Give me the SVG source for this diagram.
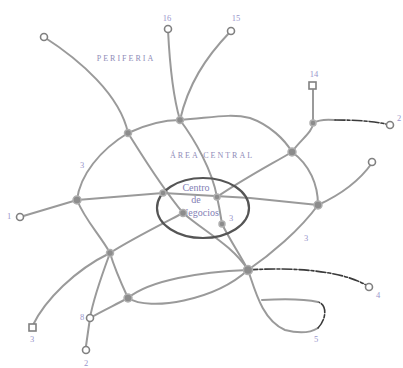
<svg xmlns="http://www.w3.org/2000/svg" width="403" height="368" viewBox="0 0 403 368">
<style>
.c{fill:none;stroke:#9a9a9a;stroke-width:2;stroke-linecap:round}
.d{fill:none;stroke:#3a3a3a;stroke-width:1.6;stroke-dasharray:10 2 3 2;stroke-linecap:round}
.j{fill:#8c8c8c;stroke:#b0b0b0;stroke-width:1.5}
.e{fill:#fff;stroke:#808080;stroke-width:1.6}
.l{font-family:"Liberation Serif",serif;font-size:8.5px;fill:#9a96cc;text-anchor:middle}
.a{font-family:"Liberation Serif",serif;font-size:8px;fill:#8f8cb8;text-anchor:middle;letter-spacing:2px}
.t{font-family:"Liberation Serif",serif;font-size:10px;fill:#8380b4;text-anchor:middle}
</style>
<rect width="403" height="368" fill="#fff"/>
<g id="connectors">
<path class="c" d="M44,37 C80,60 120,95 128,133"/>
<path class="c" d="M168,30 C170,70 174,100 180,120"/>
<path class="c" d="M230,32 C205,58 188,85 180,120"/>
<path class="c" d="M128,133 C145,125 165,120 180,120 C210,118 230,113 250,118 C270,125 285,140 292,152"/>
<path class="c" d="M128,133 C100,150 80,175 77,200"/>
<path class="c" d="M77,200 L20,217"/>
<path class="c" d="M77,200 L163,193 L250,198 L318,205"/>
<path class="c" d="M77,200 C85,220 100,235 110,253"/>
<path class="c" d="M128,133 C145,160 160,185 183,213 C205,232 232,245 248,270"/>
<path class="c" d="M180,120 C195,140 212,170 217,197 C220,210 221,218 222,224 C230,240 240,255 248,270"/>
<path class="c" d="M292,152 C270,165 245,178 217,197"/>
<path class="c" d="M292,152 C310,165 318,185 318,205"/>
<path class="c" d="M318,205 C340,195 360,180 372,163"/>
<path class="c" d="M318,205 C300,230 270,255 248,270"/>
<path class="c" d="M292,152 C300,140 313,132 313,123 L313,90"/>
<path class="c" d="M313,123 C318,120 325,119 335,120"/>
<path class="d" d="M335,120 C355,120 372,121 386,124"/>
<path class="c" d="M183,213 C160,225 130,240 110,253"/>
<path class="c" d="M110,253 C115,270 122,285 128,298"/>
<path class="c" d="M128,298 C150,280 200,272 248,270"/>
<path class="c" d="M128,298 C150,312 215,300 248,270"/>
<path class="c" d="M110,253 C100,280 93,300 90,318 L86,346"/>
<path class="c" d="M128,298 C115,305 100,312 90,318"/>
<path class="c" d="M110,253 C75,270 45,300 33,325"/>
<path class="d" d="M248,270 C290,267 340,270 366,285"/>
<path class="c" d="M248,270 C255,290 262,320 285,330 C300,334 310,333 318,328"/>
<path class="d" d="M318,328 C326,320 328,305 318,302"/>
<path class="c" d="M318,302 C300,298 280,299 262,300"/>
</g>
<g id="center">
<ellipse cx="203" cy="208" rx="46" ry="30" fill="none" stroke="#555" stroke-width="2.2"/>
<text class="t" x="196" y="191">Centro</text>
<text class="t" x="196" y="203">de</text>
<text class="t" x="200" y="216">Negocios</text>
</g>
<g id="junctions">
<circle class="j" cx="128" cy="133" r="3.5"/>
<circle class="j" cx="180" cy="120" r="3.5"/>
<circle class="j" cx="292" cy="152" r="4"/>
<circle class="j" cx="318" cy="205" r="4"/>
<circle class="j" cx="248" cy="270" r="4.5"/>
<circle class="j" cx="128" cy="298" r="4"/>
<circle class="j" cx="110" cy="253" r="3.5"/>
<circle class="j" cx="77" cy="200" r="4"/>
<circle class="j" cx="163" cy="193" r="3"/>
<circle class="j" cx="183" cy="213" r="3.5"/>
<circle class="j" cx="217" cy="197" r="3"/>
<circle class="j" cx="222" cy="224" r="3"/>
<circle class="j" cx="313" cy="123" r="3"/>
</g>
<g id="endpoints">
<circle class="e" cx="44" cy="37" r="3.5"/>
<circle class="e" cx="168" cy="29" r="3.5"/>
<circle class="e" cx="231" cy="31" r="3.5"/>
<rect class="e" x="309" y="82" width="7" height="7"/>
<circle class="e" cx="390" cy="125" r="3.5"/>
<circle class="e" cx="372" cy="162" r="3.5"/>
<circle class="e" cx="369" cy="287" r="3.5"/>
<circle class="e" cx="20" cy="217" r="3.5"/>
<rect class="e" x="29" y="324" width="7" height="7"/>
<circle class="e" cx="86" cy="350" r="3.5"/>
<circle class="e" cx="90" cy="318" r="3.5"/>
</g>
<g id="labels">
<text class="a" x="126" y="61">PERIFERIA</text>
<text class="a" x="212" y="158">ÁREA CENTRAL</text>
<text class="l" x="167" y="21">16</text>
<text class="l" x="236" y="21">15</text>
<text class="l" x="314" y="77">14</text>
<text class="l" x="399" y="121">2</text>
<text class="l" x="9" y="219">1</text>
<text class="l" x="82" y="168">3</text>
<text class="l" x="231" y="221">3</text>
<text class="l" x="306" y="241">3</text>
<text class="l" x="378" y="298">4</text>
<text class="l" x="316" y="342">5</text>
<text class="l" x="32" y="342">3</text>
<text class="l" x="86" y="366">2</text>
<text class="l" x="82" y="320">8</text>
</g>
</svg>
